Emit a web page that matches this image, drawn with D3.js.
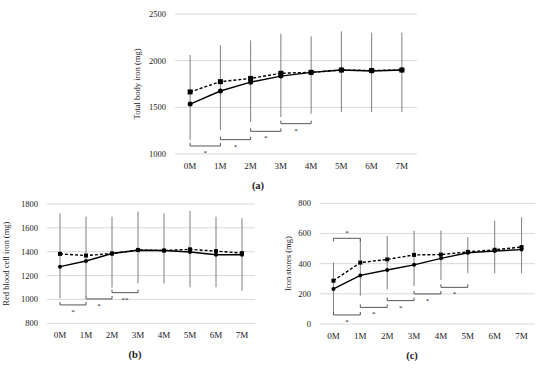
<!DOCTYPE html>
<html>
<head>
<meta charset="utf-8">
<script src="https://cdn.jsdelivr.net/npm/d3@7"></script>
<style>
  body { margin: 0; background: #fff; }
  svg text { font-family: "Liberation Serif", "Times New Roman", serif; fill: #222; }
</style>
</head>
<body>
<svg id="chart" width="550" height="373"></svg>
<script>
// --- data ---
const months = ["0M", "1M", "2M", "3M", "4M", "5M", "6M", "7M"];

// (a) total body iron
const tbiSolid  = [1535, 1675, 1770, 1835, 1875, 1900, 1890, 1900];
const tbiDashed = [1665, 1775, 1810, 1865, 1875, 1900, 1895, 1900];
const tbiHigh   = [2060, 2165, 2218, 2289, 2261, 2314, 2300, 2300];
const tbiLow    = [1150, 1254, 1343, 1396, 1432, 1450, 1450, 1450];
const tbiTicks  = [1000, 1500, 2000, 2500];
// bracket: start month index, level, label, side
const tbiBrackets = [[0, 1086, "*", "down"], [1, 1154, "*", "down"], [2, 1243, "*", "down"], [3, 1325, "*", "down"]];

// (b) red blood cell iron
const rbcSolid  = [1275, 1322, 1385, 1412, 1410, 1398, 1375, 1375];
const rbcDashed = [1382, 1368, 1385, 1415, 1410, 1420, 1405, 1388];
const rbcHigh   = [1722, 1694, 1694, 1736, 1722, 1744, 1694, 1680];
const rbcLow    = [1009, 1029, 1099, 1135, 1135, 1102, 1102, 1074];
const rbcTicks  = [800, 1000, 1200, 1400, 1600, 1800];
const rbcBrackets = [[0, 954, "*", "down"], [1, 1004, "*", "down"], [2, 1057, "**", "down"]];

// (c) iron stores
const stoSolid  = [232, 322, 358, 392, 435, 472, 484, 493];
const stoDashed = [287, 407, 428, 458, 460, 478, 492, 510];
const stoHigh   = [407, 568, 583, 619, 619, 575, 685, 707];
const stoLow    = [62, 188, 230, 252, 292, 336, 336, 336];
const stoTicks  = [0, 200, 400, 600, 800];
const stoBrackets = [[0, 60, "*", "down"], [1, 110, "*", "down"], [2, 155, "*", "down"],
                     [3, 199, "*", "down"], [4, 243, "*", "down"], [0, 568, "*", "up"]];

const svg = d3.select("#chart");

function drawPanel(p) {
  const x = d3.scalePoint().domain(months).range([p.left, p.right]).padding(0.5);
  const y = d3.scaleLinear().domain(p.domain).range([p.bottom, p.top]);
  const g = svg.append("g");

  // gridlines
  g.selectAll(".grid").data(p.ticks).enter().append("line")
    .attr("x1", p.left).attr("x2", p.right)
    .attr("y1", d => y(d)).attr("y2", d => y(d))
    .attr("stroke", "#d9d9d9").attr("stroke-width", 1);

  // y tick labels
  g.selectAll(".ytick").data(p.ticks).enter().append("text")
    .attr("x", p.left - 9).attr("y", d => y(d) + 3)
    .attr("text-anchor", "end").attr("font-size", 8.5)
    .text(d => d);

  // x tick labels
  g.selectAll(".xtick").data(months).enter().append("text")
    .attr("x", d => x(d)).attr("y", p.bottom + 15)
    .attr("text-anchor", "middle").attr("font-size", 9)
    .text(d => d);

  // y title
  g.append("text")
    .attr("transform", `translate(${p.titleX},${(p.top + p.bottom) / 2}) rotate(-90)`)
    .attr("text-anchor", "middle").attr("font-size", 8.5)
    .text(p.title);

  // panel label
  g.append("text")
    .attr("x", p.labelX).attr("y", p.bottom + 35)
    .attr("text-anchor", "middle").attr("font-size", 10.5)
    .attr("font-weight", "bold")
    .text(p.label);

  // error bars
  g.selectAll(".err").data(months).enter().append("line")
    .attr("x1", d => x(d)).attr("x2", d => x(d))
    .attr("y1", (d, i) => y(p.low[i])).attr("y2", (d, i) => y(p.high[i]))
    .attr("stroke", "#7f7f7f").attr("stroke-width", 1);

  // brackets
  p.brackets.forEach(([i, v, lab, side]) => {
    const x0 = x(months[i]), x1 = x(months[i + 1]);
    const yy = y(v);
    const t = side === "down" ? -3 : 3;
    g.append("path")
      .attr("d", `M${x0},${yy + t}V${yy}H${x1}V${yy + t}`)
      .attr("fill", "none").attr("stroke", "#555").attr("stroke-width", 1);
    g.append("text")
      .attr("x", (x0 + x1) / 2).attr("y", side === "down" ? yy + 9 : yy - 3)
      .attr("text-anchor", "middle").attr("font-size", 7)
      .text(lab);
  });

  // lines
  const line = d3.line().x((d, i) => x(months[i])).y(d => y(d));
  g.append("path").datum(p.dashed)
    .attr("d", line).attr("fill", "none")
    .attr("stroke", "#000").attr("stroke-width", 1.4).attr("stroke-dasharray", "3,2");
  g.append("path").datum(p.solid)
    .attr("d", line).attr("fill", "none")
    .attr("stroke", "#000").attr("stroke-width", 1.4);

  // markers
  const s = p.markSize;
  g.selectAll(".sq").data(p.dashed).enter().append("rect")
    .attr("x", (d, i) => x(months[i]) - s / 2).attr("y", d => y(d) - s / 2)
    .attr("width", s).attr("height", s).attr("fill", "#000");
  g.selectAll(".dot").data(p.solid).enter().append("circle")
    .attr("cx", (d, i) => x(months[i])).attr("cy", d => y(d))
    .attr("r", s / 2).attr("fill", "#000");
}

drawPanel({
  left: 175, right: 417, top: 14, bottom: 154, domain: [1000, 2500],
  ticks: tbiTicks, title: "Total body iron (mg)", titleX: 140, label: "(a)", labelX: 258,
  solid: tbiSolid, dashed: tbiDashed, high: tbiHigh, low: tbiLow,
  brackets: tbiBrackets, markSize: 5
});

drawPanel({
  left: 47, right: 255, top: 204, bottom: 323.3, domain: [800, 1800],
  ticks: rbcTicks, title: "Red blood cell iron (mg)", titleX: 9, label: "(b)", labelX: 135,
  solid: rbcSolid, dashed: rbcDashed, high: rbcHigh, low: rbcLow,
  brackets: rbcBrackets, markSize: 4
});

drawPanel({
  left: 320, right: 535, top: 203.3, bottom: 324, domain: [0, 800],
  ticks: stoTicks, title: "Iron stores (mg)", titleX: 291, label: "(c)", labelX: 412,
  solid: stoSolid, dashed: stoDashed, high: stoHigh, low: stoLow,
  brackets: stoBrackets, markSize: 4
});
</script>
</body>
</html>
